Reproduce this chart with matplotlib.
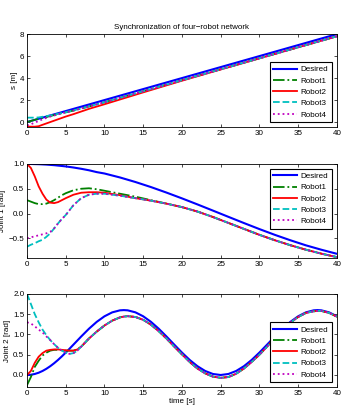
import matplotlib
matplotlib.use('Agg')
import matplotlib.pyplot as plt
import numpy as np

plt.rcParams['font.family'] = ['Liberation Sans', 'DejaVu Sans']
plt.rcParams['font.size'] = 5.8

# ---- panel 1 : path coordinate s ----
t_s = [0, 0.5, 1, 1.5, 2, 3, 4, 5, 6, 8, 10, 15, 20, 25, 30, 35, 40]
s_des = [0, 0.1, 0.2, 0.3, 0.4, 0.6, 0.8, 1.0, 1.2, 1.6, 2.0, 3.0, 4.0, 5.0, 6.0, 7.0, 8.0]
s_r1 = [0.0, 0.1, 0.2, 0.3, 0.38, 0.55, 0.72, 0.88, 1.04, 1.42, 1.8, 2.8, 3.8, 4.8, 5.8, 6.8, 7.8]
s_r2 = [-0.4, -0.42, -0.42, -0.38, -0.25, 0.0, 0.25, 0.5, 0.72, 1.2, 1.62, 2.7, 3.76, 4.78, 5.79, 6.8, 7.8]
s_r3 = [0.4, 0.4, 0.4, 0.42, 0.48, 0.6, 0.75, 0.9, 1.06, 1.42, 1.8, 2.8, 3.8, 4.8, 5.8, 6.8, 7.8]
s_r4 = [-0.3, -0.2, -0.05, 0.1, 0.25, 0.5, 0.7, 0.88, 1.05, 1.42, 1.8, 2.8, 3.8, 4.8, 5.8, 6.8, 7.8]

# ---- panel 2 : joint 1 ----
t_j1 = [0, 0.5, 1, 1.5, 2, 2.5, 3, 3.5, 4, 4.5, 5, 6, 7, 8, 9, 10,
        12, 14, 16, 18, 20, 22, 24, 26, 28, 30, 32, 34, 36, 38, 40]
j1_des = [1.0, 1.0, 0.998, 0.996, 0.992, 0.988, 0.982, 0.976, 0.968, 0.96, 0.951, 0.929, 0.903, 0.873, 0.836, 0.808,
          0.728, 0.636, 0.534, 0.423, 0.306, 0.184, 0.059, -0.067, -0.192, -0.314, -0.431, -0.54, -0.642, -0.731, -0.813]
j1_r1 = [0.27, 0.24, 0.21, 0.19, 0.19, 0.2, 0.23, 0.27, 0.32, 0.37, 0.41, 0.47, 0.5, 0.51, 0.49, 0.46,
         0.4, 0.34, 0.27, 0.2, 0.13, 0.04, -0.07, -0.19, -0.31, -0.43, -0.54, -0.64, -0.73, -0.81, -0.88]
j1_r2 = [1.0, 0.92, 0.75, 0.55, 0.4, 0.28, 0.22, 0.21, 0.23, 0.27, 0.31, 0.38, 0.42, 0.43, 0.43, 0.42,
         0.37, 0.31, 0.26, 0.2, 0.13, 0.04, -0.07, -0.19, -0.31, -0.43, -0.54, -0.64, -0.73, -0.81, -0.88]
j1_r3 = [-0.67, -0.63, -0.6, -0.56, -0.53, -0.47, -0.4, -0.3, -0.2, -0.11, -0.03, 0.17, 0.31, 0.38, 0.4, 0.4,
         0.36, 0.31, 0.26, 0.2, 0.13, 0.04, -0.07, -0.19, -0.31, -0.43, -0.54, -0.64, -0.73, -0.81, -0.88]
j1_r4 = [-0.5, -0.48, -0.46, -0.44, -0.42, -0.4, -0.37, -0.3, -0.2, -0.11, -0.03, 0.17, 0.31, 0.38, 0.4, 0.4,
         0.36, 0.31, 0.26, 0.2, 0.13, 0.04, -0.07, -0.19, -0.31, -0.43, -0.54, -0.64, -0.73, -0.81, -0.88]

# ---- panel 3 : joint 2 ----
t_j2 = [0, 0.5, 1, 1.5, 2, 2.5, 3, 3.5, 4, 4.5, 5, 5.5, 6, 6.5, 7, 8, 9, 10, 11, 12, 12.5, 13, 14, 15,
        16, 17, 18, 19, 20, 21, 22, 23, 24, 25, 26, 27, 28, 29, 30, 31, 32, 33, 34, 35, 36, 37, 37.5, 38, 39, 40]
j2_des = [0, 0.006, 0.025, 0.056, 0.099, 0.153, 0.217, 0.29, 0.371, 0.459, 0.553, 0.65, 0.75, 0.85, 0.95, 1.141,
          1.31, 1.447, 1.544, 1.594, 1.6, 1.594, 1.544, 1.447, 1.31, 1.141, 0.95, 0.75, 0.553, 0.371, 0.217, 0.099,
          0.025, 0.0, 0.025, 0.099, 0.217, 0.371, 0.553, 0.75, 0.95, 1.141, 1.31, 1.447, 1.544, 1.594, 1.6, 1.594,
          1.544, 1.447]
j2_tail = [0.9, 1.07, 1.22, 1.34, 1.42, 1.44, 1.45, 1.43, 1.36, 1.24, 1.08, 0.9, 0.7, 0.51, 0.32, 0.16, 0.04,
           -0.04, -0.07, -0.05, 0.03, 0.16, 0.32, 0.5, 0.7, 0.91, 1.11, 1.29, 1.43, 1.53, 1.57, 1.58, 1.58, 1.53, 1.44]
j2_r1 = [-0.25, -0.05, 0.2, 0.35, 0.48, 0.55, 0.6, 0.62, 0.62, 0.61, 0.6, 0.6, 0.6, 0.63, 0.7] + j2_tail
j2_r2 = [0.0, 0.1, 0.3, 0.45, 0.54, 0.6, 0.62, 0.63, 0.63, 0.62, 0.61, 0.6, 0.6, 0.63, 0.7] + j2_tail
j2_r3 = [2.0, 1.75, 1.5, 1.3, 1.12, 0.98, 0.86, 0.76, 0.67, 0.6, 0.55, 0.52, 0.54, 0.6, 0.7] + j2_tail
j2_r4 = [1.3, 1.27, 1.2, 1.12, 1.05, 0.95, 0.86, 0.76, 0.67, 0.6, 0.55, 0.52, 0.54, 0.6, 0.7] + j2_tail

names = ['Desired', 'Robot1', 'Robot2', 'Robot3', 'Robot4']
colors = ['#0000ff', '#008000', '#ff0000', '#00bfbf', '#bf00bf']
styles = ['-', '-.', '-', '--', ':']
widths = [1.5, 1.3, 1.3, 1.3, 1.3]


def panel(ax, t, series, ylim, yticks, ylabel, legend_loc):
    for y, name, c, ls, lw in zip(series, names, colors, styles, widths):
        ax.plot(t, y, color=c, linestyle=ls, linewidth=lw, label=name)
    ax.set_xlim(0, 40)
    ax.set_xticks(np.arange(0, 41, 5))
    ax.set_ylim(*ylim)
    ax.set_yticks(yticks)
    ax.set_ylabel(ylabel, labelpad=1.5)
    ax.tick_params(direction='in', top=True, right=True, length=2.5, width=0.5, pad=2)
    for sp in ax.spines.values():
        sp.set_linewidth(0.6)
    leg = ax.legend(loc=legend_loc, fancybox=False, edgecolor='black', framealpha=1,
                    handlelength=2.9, handletextpad=0.5, labelspacing=0.45,
                    borderpad=0.45, borderaxespad=0.6, fontsize=5.8)
    leg.get_frame().set_linewidth(0.8)


fig = plt.figure(figsize=(3.42, 4.11), dpi=100)
ax1 = fig.add_axes([0.079, 0.691, 0.906, 0.226])
ax2 = fig.add_axes([0.079, 0.372, 0.906, 0.229])
ax3 = fig.add_axes([0.079, 0.058, 0.906, 0.227])

panel(ax1, t_s, [s_des, s_r1, s_r2, s_r3, s_r4], (-0.45, 8), [0, 2, 4, 6, 8], 's [m]', 'lower right')
panel(ax2, t_j1, [j1_des, j1_r1, j1_r2, j1_r3, j1_r4], (-0.9, 1), [-0.5, 0, 0.5, 1], 'Joint 1 [rad]', 'upper right')
panel(ax3, t_j2, [j2_des, j2_r1, j2_r2, j2_r3, j2_r4], (-0.3, 2), [0, 0.5, 1, 1.5, 2], 'Joint 2 [rad]', 'lower right')

ax1.set_title('Synchronization of four\u2212robot network', fontsize=5.8, pad=4)
ax3.set_xlabel('time [s]', labelpad=1)

fig.savefig('out.png', dpi=100)
